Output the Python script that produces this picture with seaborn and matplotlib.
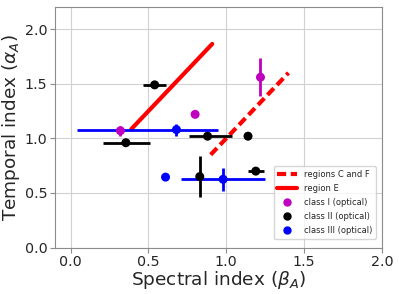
import seaborn as sns
import pandas as pd
import matplotlib.pyplot as plt

# closure-relation regions (end points)
cf_beta = [0.90, 1.40]
cf_alpha = [0.85, 1.60]
e_beta = [0.39, 0.91]
e_alpha = [1.085, 1.865]

# afterglow samples
classes = ['class I (optical)', 'class I (optical)', 'class I (optical)',
           'class II (optical)', 'class II (optical)', 'class II (optical)',
           'class II (optical)', 'class II (optical)', 'class II (optical)',
           'class III (optical)', 'class III (optical)', 'class III (optical)']
beta = [0.32, 0.80, 1.22, 0.54, 0.355, 0.88, 1.14, 1.19, 0.83, 0.68, 0.61, 0.98]
alpha = [1.07, 1.22, 1.56, 1.49, 0.96, 1.02, 1.02, 0.70, 0.65, 1.08, 0.645, 0.625]
beta_lo = [0.0, 0.0, 0.0, 0.075, 0.15, 0.12, 0.0, 0.05, 0.0, 0.64, 0.0, 0.27]
beta_hi = [0.0, 0.0, 0.0, 0.075, 0.155, 0.16, 0.0, 0.05, 0.0, 0.27, 0.0, 0.27]
alpha_err = [0.045, 0.0, 0.175, 0.0, 0.0, 0.0, 0.0, 0.0, 0.19, 0.055, 0.0, 0.105]

colors = {'class I (optical)': 'm', 'class II (optical)': 'k', 'class III (optical)': 'b'}

df = pd.DataFrame({'cls': classes, 'beta': beta, 'alpha': alpha,
                   'blo': beta_lo, 'bhi': beta_hi, 'aerr': alpha_err})

sns.set_style('whitegrid', {'axes.edgecolor': '0.55', 'grid.color': '0.82',
                            'xtick.bottom': True, 'ytick.left': True})
plt.rcParams['font.family'] = ['DejaVu Sans']

fig = plt.figure(figsize=(3.99, 2.94), dpi=100)
ax = fig.add_axes([0.138, 0.158, 0.819, 0.817])

l1, = ax.plot(cf_beta, cf_alpha, color='r', ls=(0, (2.2, 1.1)), lw=3, label='regions C and F')
l2, = ax.plot(e_beta, e_alpha, color='r', ls='-', lw=3, label='region E')

for _, r in df.iterrows():
    ax.errorbar(r['beta'], r['alpha'], xerr=[[r['blo']], [r['bhi']]], yerr=r['aerr'],
                fmt='none', ecolor=colors[r['cls']], elinewidth=2, capsize=0)

sns.scatterplot(data=df, x='beta', y='alpha', hue='cls', palette=colors,
                s=42, edgecolor='none', ax=ax, legend=False, zorder=3)

handles = [l1, l2] + [plt.Line2D([], [], ls='none', marker='o', color=c, markersize=5)
                      for c in colors.values()]
labels = ['regions C and F', 'region E'] + list(colors.keys())
ax.legend(handles, labels, loc='lower right', fontsize=6.0, frameon=True,
          handlelength=2.4, borderpad=0.45, labelspacing=0.6,
          bbox_to_anchor=(0.995, 0.02))

ax.set_xlim(-0.1, 2.0)
ax.set_ylim(0, 2.2)
ax.set_xticks([0.0, 0.5, 1.0, 1.5, 2.0])
ax.set_yticks([0.0, 0.5, 1.0, 1.5, 2.0])
ax.tick_params(labelsize=10.3, length=3.5, color='0.55', pad=2)
ax.set_xlabel(r'Spectral index ($\beta_A$)', fontsize=13.3, labelpad=0)
ax.set_ylabel(r'Temporal index ($\alpha_A$)', fontsize=13.3, labelpad=2)

fig.savefig('out.png', dpi=100)
